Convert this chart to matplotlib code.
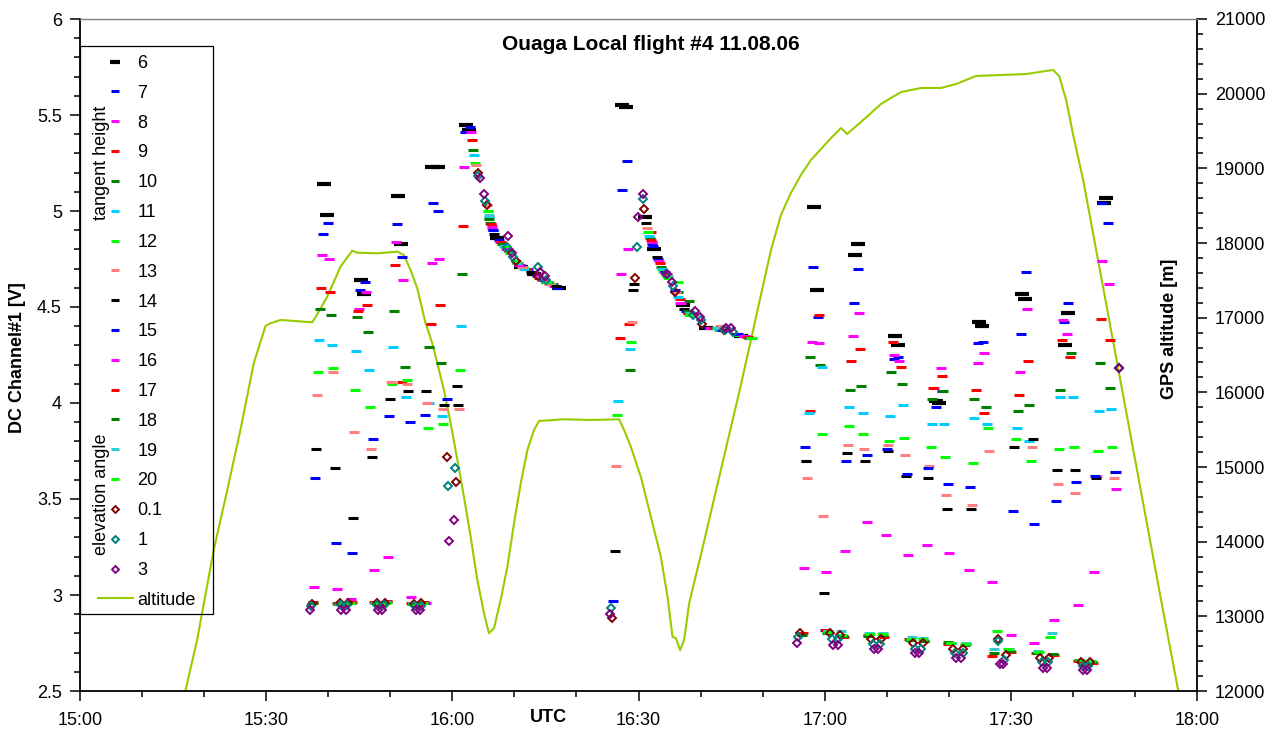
import matplotlib
matplotlib.use("Agg")
import matplotlib.pyplot as plt
from matplotlib.lines import Line2D
from matplotlib.patches import Rectangle
from matplotlib.ticker import MultipleLocator, FuncFormatter

plt.rcParams['font.family'] = ['Liberation Sans', 'DejaVu Sans']
plt.rcParams['font.size'] = 13

# GPS altitude track, minutes after 15:00 UTC and metres
alt_t = [16.98, 18.87, 21.55, 23.97, 25.85, 28.0, 29.89, 30.69, 32.31, 37.42, 37.95, 39.84,
         41.98, 43.87, 44.68, 47.9, 51.13, 52.19, 53.27, 54.35, 55.69, 56.77, 57.58, 58.65,
         59.73, 60.81, 61.87, 62.95, 64.03, 65.1, 65.9, 66.71, 67.79, 68.87, 69.94, 71.02,
         72.1, 73.16, 73.97, 78.0, 82.31, 86.87, 87.68, 88.76, 90.37, 91.45, 92.52, 93.6,
         94.68, 95.48, 96.02, 96.71, 97.35, 98.16, 100.05, 103.27, 106.5, 109.73, 111.35,
         112.95, 114.56, 116.18, 117.79, 121.02, 122.63, 123.6, 125.85, 129.08, 132.31,
         135.53, 138.76, 141.18, 144.4, 148.44, 152.47, 155.69, 156.82, 157.79, 158.92,
         160.05, 161.66, 164.56, 167.31, 171.02, 174.24, 176.98]
alt_m = [12000, 12683, 13888, 14782, 15496, 16389, 16888, 16925, 16969, 16938, 17005, 17281,
         17683, 17897, 17870, 17862, 17884, 17839, 17638, 17393, 16925, 16657, 16389, 16031,
         15585, 15094, 14602, 14067, 13487, 13041, 12773, 12840, 13219, 13665, 14246, 14782,
         15228, 15496, 15616, 15639, 15630, 15639, 15496, 15272, 14870, 14514, 14156, 13799,
         13263, 12727, 12706, 12549, 12683, 13174, 13821, 14960, 16098, 17304, 17906,
         18375, 18670, 18911, 19112, 19406, 19540, 19460, 19621, 19862, 20022,
         20076, 20076, 20129, 20237, 20250, 20263, 20304, 20317, 20237, 19915,
         19446, 18844, 17545, 16312, 14652, 13205, 12000]

# DC channel #1 in volts, (minutes after 15:00 UTC, V), tangent heights 6..20 km
th6 = [(39.29, 5.14), (39.84, 4.98), (45.21, 4.64), (45.74, 4.57), (51.23, 5.08), (51.66, 4.83),
       (56.66, 5.23), (57.63, 5.23), (62.15, 5.45), (62.68, 5.42), (67.26, 4.86), (71.02, 4.71),
       (73.16, 4.67), (77.19, 4.60), (87.42, 5.55), (87.95, 5.54), (91.06, 4.97), (92.52, 4.80),
       (97.1, 4.51), (100.85, 4.39), (106.5, 4.35), (118.23, 5.02), (118.76, 4.59), (124.84, 4.77),
       (125.32, 4.83), (131.39, 4.35), (131.87, 4.30), (137.95, 4.01), (138.48, 4.00), (144.84, 4.42),
       (145.37, 4.40), (151.82, 4.57), (152.26, 4.54), (158.71, 4.30), (159.19, 4.47), (164.94, 5.04),
       (165.37, 5.07)]
th7 = [(39.13, 4.88), (39.94, 4.94), (45.05, 4.59), (45.85, 4.63), (51.13, 4.93), (51.82, 4.76),
       (56.94, 5.04), (57.63, 5.00), (61.98, 5.41), (62.84, 5.44), (66.61, 4.90), (67.47, 4.85),
       (72.26, 4.70), (73.6, 4.66), (76.82, 4.60), (87.31, 5.11), (88.11, 5.26), (92.35, 4.82),
       (93.16, 4.75), (97.58, 4.48), (101.34, 4.39), (106.82, 4.35), (118.06, 4.71), (118.87, 4.45),
       (124.68, 4.52), (125.42, 4.70), (131.23, 4.23), (131.79, 4.24), (137.9, 3.98), (138.87, 4.06),
       (144.77, 4.31), (145.48, 4.32), (151.66, 4.36), (152.42, 4.68), (158.55, 4.42), (159.29, 4.52),
       (164.73, 5.04), (165.58, 4.94)]
th8 = [(39.03, 4.77), (40.1, 4.75), (44.94, 4.49), (46.06, 4.58), (50.85, 4.84), (52.03, 4.64),
       (56.77, 4.73), (57.84, 4.75), (61.87, 5.23), (62.95, 5.41), (66.45, 4.91), (67.63, 4.84),
       (71.98, 4.70), (73.76, 4.66), (76.39, 4.61), (87.15, 4.67), (88.23, 4.80), (92.1, 4.84),
       (93.32, 4.74), (96.66, 4.52), (101.5, 4.39), (107.15, 4.35), (117.9, 4.32), (119.03, 4.31),
       (124.52, 4.35), (125.58, 4.47), (131.1, 4.25), (132.03, 4.22), (137.58, 4.08), (138.76, 4.18),
       (144.68, 4.21), (145.65, 4.26), (151.45, 4.16), (152.63, 4.49), (158.44, 4.43), (159.08, 4.36),
       (164.73, 4.74), (165.81, 4.62)]
th9 = [(38.76, 4.60), (40.21, 4.58), (44.77, 4.48), (46.18, 4.51), (50.74, 4.72), (51.82, 4.11),
       (56.5, 4.41), (57.95, 4.51), (61.71, 4.92), (63.11, 5.37), (66.29, 4.93), (67.79, 4.84),
       (71.82, 4.70), (73.92, 4.65), (76.18, 4.62), (86.98, 4.34), (88.39, 4.41), (91.98, 4.89),
       (93.44, 4.73), (96.61, 4.54), (97.9, 4.47), (102.5, 4.39), (107.47, 4.345), (117.68, 3.96),
       (119.13, 4.46), (124.24, 4.22), (125.74, 4.28), (130.97, 4.32), (132.31, 4.19), (137.52, 4.08),
       (138.92, 4.14), (144.45, 4.07), (145.74, 3.95), (151.29, 4.04), (152.74, 4.22), (158.23, 4.33),
       (159.61, 4.24), (164.45, 4.44), (165.9, 4.33)]
th10 = [(38.65, 4.49), (40.37, 4.46), (44.56, 4.45), (46.39, 4.37), (50.58, 4.48), (52.35, 4.19),
        (56.29, 4.29), (58.16, 4.21), (61.61, 4.67), (63.32, 5.32), (66.06, 4.94), (68.06, 4.83),
        (71.66, 4.70), (74.08, 4.65), (76.02, 4.62), (88.6, 4.17), (91.87, 4.86), (93.6, 4.71),
        (96.39, 4.58), (98.16, 4.53), (102.66, 4.39), (107.79, 4.34), (117.63, 4.24), (119.29, 4.20),
        (124.13, 4.07), (125.85, 4.09), (130.69, 4.16), (132.47, 4.10), (137.31, 4.02), (139.03, 4.06),
        (144.13, 4.02), (146.02, 3.98), (151.23, 3.96), (152.9, 3.99), (158.0, 4.07), (159.73, 4.26),
        (164.4, 4.21), (166.06, 4.08)]
th11 = [(38.48, 4.33), (40.58, 4.30), (44.52, 4.27), (46.5, 4.17), (50.42, 4.29), (52.52, 4.03),
        (56.18, 4.00), (58.32, 3.93), (61.45, 4.40), (63.48, 5.29), (65.97, 4.97), (68.27, 4.82),
        (71.5, 4.70), (74.24, 4.65), (75.85, 4.62), (86.77, 4.01), (88.71, 4.28), (91.71, 4.87),
        (93.76, 4.70), (96.29, 4.55), (98.4, 4.47), (102.95, 4.38), (108.23, 4.34), (117.47, 3.95),
        (119.52, 4.19), (123.97, 3.98), (126.13, 3.95), (130.58, 3.93), (132.68, 3.99), (137.26, 3.89),
        (139.29, 3.89), (144.08, 3.92), (146.13, 3.89), (151.02, 3.87), (153.0, 3.80), (157.9, 4.03),
        (159.94, 4.03), (164.13, 3.96), (166.18, 3.97)]
th12 = [(38.39, 4.16), (40.69, 4.18), (44.29, 4.07), (46.66, 3.98), (50.32, 4.10), (52.63, 4.12),
        (56.06, 3.87), (58.44, 3.89), (61.29, 4.17), (63.6, 5.25), (65.74, 5.00), (68.44, 4.81),
        (71.34, 4.71), (74.4, 4.64), (75.69, 4.62), (86.5, 3.94), (88.87, 4.32), (91.61, 4.89),
        (93.92, 4.69), (96.29, 4.63), (98.16, 4.46), (103.27, 4.38), (106.18, 4.355), (116.98, 3.70),
        (119.61, 3.84), (123.87, 3.88), (126.23, 3.84), (130.42, 3.80), (132.84, 3.82), (137.1, 3.77),
        (139.4, 3.72), (143.97, 3.69), (146.34, 3.87), (150.85, 3.81), (153.23, 3.70), (157.79, 3.76),
        (160.16, 3.77), (164.03, 3.75), (166.34, 3.77)]
th13 = [(38.16, 4.04), (40.85, 4.16), (44.19, 3.85), (46.82, 3.76), (50.16, 4.11), (52.74, 4.10),
        (55.97, 4.00), (58.55, 3.97), (61.13, 3.97), (63.76, 5.24), (65.61, 5.03), (68.6, 4.80),
        (71.18, 4.71), (74.56, 4.64), (75.53, 4.62), (86.34, 3.67), (89.03, 4.42), (91.45, 4.91),
        (94.03, 4.68), (96.02, 4.58), (98.5, 4.47), (103.16, 4.40), (105.85, 4.36), (117.15, 3.61),
        (119.77, 3.41), (123.71, 3.78), (126.39, 3.76), (130.26, 3.78), (132.95, 3.73), (136.87, 3.67),
        (139.56, 3.52), (143.76, 3.47), (146.45, 3.75), (153.39, 3.77), (157.58, 3.58), (160.26, 3.53),
        (163.92, 3.62), (166.55, 3.61)]
th14 = [(38.06, 3.76), (41.02, 3.66), (43.97, 3.40), (46.98, 3.72), (49.94, 4.02), (52.9, 4.06),
        (55.74, 4.06), (58.71, 3.99), (60.74, 4.09), (60.9, 3.99), (66.71, 4.88), (72.63, 4.68),
        (75.32, 4.63), (76.66, 4.61), (86.23, 3.23), (89.19, 4.59), (89.29, 4.62), (91.23, 4.94),
        (93.06, 4.76), (97.35, 4.49), (102.79, 4.39), (105.69, 4.36), (116.98, 3.70), (119.94, 3.01),
        (123.55, 3.74), (126.5, 3.70), (130.16, 3.75), (133.11, 3.62), (136.71, 3.61), (139.68, 3.45),
        (143.6, 3.45), (150.58, 3.77), (153.55, 3.81), (157.42, 3.65), (160.37, 3.65), (163.76, 3.61),
        (166.71, 3.64)]
th15 = [(37.84, 3.61), (41.18, 3.27), (43.81, 3.22), (47.15, 3.81), (49.77, 3.93), (53.16, 3.90),
        (55.58, 3.94), (59.08, 4.02), (66.5, 4.90), (68.76, 4.80), (70.85, 4.72), (74.73, 4.64),
        (75.4, 4.63), (85.9, 2.97), (92.23, 4.83), (94.24, 4.68), (95.85, 4.59), (97.74, 4.48),
        (103.44, 4.38), (106.02, 4.36), (116.82, 3.77), (120.05, 2.82), (123.44, 3.70), (126.77, 3.73),
        (130.05, 3.76), (133.27, 3.63), (136.61, 3.66), (139.84, 3.58), (143.44, 3.56), (150.42, 3.44),
        (153.71, 3.37), (157.31, 3.49), (160.58, 3.59), (163.6, 3.62), (166.87, 3.64)]
th16 = [(37.74, 3.04), (41.34, 3.03), (43.71, 2.98), (47.31, 3.13), (49.61, 3.20), (53.27, 2.99),
        (55.69, 2.96), (66.34, 4.92), (69.0, 4.80), (70.69, 4.72), (74.9, 4.64), (92.15, 4.84),
        (94.4, 4.67), (96.82, 4.52), (101.97, 4.39), (106.98, 4.35), (116.61, 3.14), (120.21, 3.12),
        (123.27, 3.23), (126.82, 3.38), (129.89, 3.31), (133.39, 3.21), (136.45, 3.26), (140.1, 3.22),
        (143.32, 3.13), (146.94, 3.07), (150.1, 2.79), (153.81, 2.75), (157.03, 2.87), (160.81, 2.95),
        (163.39, 3.12), (166.98, 3.55)]
th17 = [(37.55, 2.965), (41.39, 2.96), (43.76, 2.965), (47.35, 2.965), (49.52, 2.97), (53.39, 2.957),
        (55.42, 2.965), (66.21, 4.93), (69.08, 4.79), (70.53, 4.73), (75.08, 4.63), (92.03, 4.85),
        (94.6, 4.67), (98.0, 4.47), (102.14, 4.39), (107.63, 4.345), (116.45, 2.80), (120.21, 2.82),
        (123.16, 2.78), (126.94, 2.79), (129.61, 2.78), (133.65, 2.77), (136.06, 2.76), (139.94, 2.745),
        (142.79, 2.745), (146.98, 2.68), (150.05, 2.705), (154.08, 2.70), (156.94, 2.69), (160.81, 2.656),
        (163.23, 2.647)]
th18 = [(37.48, 2.96), (41.58, 2.955), (43.6, 2.96), (47.47, 2.96), (49.4, 2.965), (53.52, 2.955),
        (55.29, 2.96), (65.92, 4.96), (69.16, 4.79), (70.44, 4.73), (75.16, 4.63), (94.65, 4.66),
        (98.03, 4.48), (102.5, 4.39), (107.95, 4.34), (116.34, 2.79), (120.37, 2.80), (123.03, 2.785),
        (127.06, 2.785), (129.48, 2.79), (133.76, 2.765), (135.93, 2.76), (139.94, 2.757), (142.69, 2.74),
        (147.35, 2.70), (149.87, 2.71), (154.19, 2.70), (156.82, 2.695), (160.94, 2.66), (163.11, 2.65)]
th19 = [(41.66, 2.96), (43.52, 2.96), (47.6, 2.96), (49.32, 2.965), (53.6, 2.96), (55.21, 2.96),
        (65.84, 4.98), (69.24, 4.78), (70.36, 4.73), (75.24, 4.63), (94.73, 4.66), (98.35, 4.47),
        (102.71, 4.39), (108.1, 4.34), (120.5, 2.81), (122.63, 2.81), (127.19, 2.80), (129.35, 2.80),
        (134.08, 2.78), (135.9, 2.775), (140.37, 2.75), (142.79, 2.75), (147.35, 2.72), (149.77, 2.72),
        (154.35, 2.71), (156.66, 2.80)]
th20 = [(41.82, 2.955), (43.44, 2.96), (47.71, 2.96), (49.24, 2.96), (53.68, 2.955), (55.13, 2.96),
        (65.69, 5.00), (69.31, 4.78), (70.29, 4.74), (75.32, 4.63), (94.81, 4.65), (98.53, 4.465),
        (108.27, 4.34), (120.6, 2.805), (122.87, 2.79), (127.31, 2.795), (129.24, 2.795), (133.92, 2.77),
        (135.77, 2.77), (140.37, 2.748), (142.56, 2.745), (147.74, 2.81), (149.56, 2.717), (154.48, 2.705),
        (156.34, 2.783), (161.08, 2.66), (162.95, 2.655)]

# elevation angles 0.1, 1 and 3 deg
ea01 = [(37.42, 2.955), (41.87, 2.957), (43.16, 2.957), (47.79, 2.957), (49.13, 2.96), (53.81, 2.953),
        (55.0, 2.957), (59.19, 3.72), (60.65, 3.59), (64.13, 5.20), (65.53, 5.03), (70.21, 4.74),
        (73.81, 4.66), (85.69, 2.88), (89.45, 4.65), (90.9, 5.01), (95.9, 4.58), (100.21, 4.41),
        (103.81, 4.38), (116.0, 2.80), (120.9, 2.80), (122.47, 2.79), (127.47, 2.77), (129.08, 2.77),
        (134.29, 2.75), (135.81, 2.75), (140.74, 2.72), (142.35, 2.72), (147.9, 2.77), (149.24, 2.69),
        (154.77, 2.67), (156.23, 2.67), (161.34, 2.65), (162.68, 2.65), (167.42, 4.18)]
ea1 = [(37.26, 2.945), (41.98, 2.946), (43.06, 2.946), (47.9, 2.946), (48.97, 2.946), (53.92, 2.943),
       (54.89, 2.943), (59.35, 3.57), (60.42, 3.66), (64.19, 5.18), (65.26, 5.05), (68.76, 4.81),
       (69.84, 4.76), (73.87, 4.71), (75.16, 4.64), (85.53, 2.93), (89.68, 4.81), (90.74, 5.06),
       (94.4, 4.67), (95.58, 4.61), (98.71, 4.46), (100.05, 4.43), (103.92, 4.38), (105.16, 4.37),
       (115.74, 2.78), (121.13, 2.77), (122.19, 2.77), (127.74, 2.745), (128.92, 2.745), (134.56, 2.72),
       (135.53, 2.72), (141.02, 2.70), (142.26, 2.70), (148.0, 2.76), (148.97, 2.66), (155.0, 2.65),
       (155.97, 2.65), (161.61, 2.63), (162.42, 2.63), (167.42, 4.18)]
ea3 = [(37.03, 2.92), (42.1, 2.922), (42.79, 2.922), (48.0, 2.922), (48.6, 2.922), (54.08, 2.922),
       (54.77, 2.922), (59.52, 3.28), (60.26, 3.39), (64.4, 5.17), (65.1, 5.09), (68.92, 4.87),
       (69.68, 4.78), (74.08, 4.68), (74.89, 4.66), (85.37, 2.90), (89.84, 4.97), (90.65, 5.09),
       (94.56, 4.67), (95.37, 4.63), (99.13, 4.48), (99.89, 4.45), (104.08, 4.39), (104.89, 4.39),
       (115.52, 2.75), (121.39, 2.74), (122.1, 2.74), (128.0, 2.72), (128.65, 2.72), (134.56, 2.70),
       (135.26, 2.70), (141.18, 2.67), (141.98, 2.67), (148.27, 2.64), (148.81, 2.64), (155.16, 2.62),
       (155.81, 2.62), (161.61, 2.61), (162.26, 2.61), (167.42, 4.18)]

x_ticks = [0, 30, 60, 90, 120, 150, 180]
x_labels = ["15:00", "15:30", "16:00", "16:30", "17:00", "17:30", "18:00"]

dash_series = [("6", th6, "#000000"), ("7", th7, "#0000FF"), ("8", th8, "#FF00FF"),
               ("9", th9, "#FF0000"), ("10", th10, "#008000"), ("11", th11, "#00CCFF"),
               ("12", th12, "#00FF00"), ("13", th13, "#FF8080"), ("14", th14, "#000000"),
               ("15", th15, "#0000FF"), ("16", th16, "#FF00FF"), ("17", th17, "#FF0000"),
               ("18", th18, "#008000"), ("19", th19, "#33CCCC"), ("20", th20, "#00FF00")]
diamond_series = [("0.1", ea01, "#800000"), ("1", ea1, "#008080"), ("3", ea3, "#800080")]
alt_color = "#99CC00"

fig = plt.figure(figsize=(12.77, 7.29), dpi=100)
ax = fig.add_axes([80 / 1277, 38 / 729, 1117 / 1277, 672 / 729])
ax2 = ax.twinx()

ax2.plot(alt_t, alt_m, color=alt_color, lw=1.5)
ax2.set_ylim(12000, 21000)

ax.set_zorder(ax2.get_zorder() + 1)
ax.patch.set_visible(False)

handles, labels = [], []
for name, pts, col in dash_series:
    ts = [p[0] for p in pts]
    vs = [p[1] for p in pts]
    big = name == "6"
    ax.plot(ts, vs, ls="none", marker="_", color=col,
            ms=9.5 if big else 7, mew=3.0 if big else 2.2)
    handles.append(Line2D([], [], ls="none", marker="_", color=col,
                          ms=7.5 if big else 6, mew=3.0 if big else 2.2))
    labels.append(name)
for name, pts, col in diamond_series:
    ts = [p[0] for p in pts]
    vs = [p[1] for p in pts]
    ax.plot(ts, vs, ls="none", marker="D", ms=4.5, mfc="none", mec=col, mew=1.4)
    handles.append(Line2D([], [], ls="none", marker="D", ms=3.5, mfc="none", mec=col, mew=1.4))
    labels.append(name)
handles.append(Line2D([], [], color=alt_color, lw=1.5))
labels.append("altitude")

ax.set_xlim(0, 180)
ax.set_ylim(2.5, 6)
ax.set_xticks(x_ticks, x_labels)
ax.xaxis.set_minor_locator(MultipleLocator(10))
ax.yaxis.set_major_locator(MultipleLocator(0.5))
ax.yaxis.set_minor_locator(MultipleLocator(0.1))
ax.yaxis.set_major_formatter(FuncFormatter(lambda v, p: "%g" % v))
ax2.yaxis.set_major_locator(MultipleLocator(1000))
ax2.yaxis.set_minor_locator(MultipleLocator(200))

ax.tick_params(which="major", direction="out", length=7, width=1.1, labelsize=13)
ax.tick_params(which="minor", direction="out", length=4, width=1.1)
ax.tick_params(axis="x", pad=8)
ax.tick_params(axis="y", pad=6, right=False, which="both")
ax2.tick_params(which="major", direction="out", length=7, width=1.1, labelsize=13, pad=6)
ax2.tick_params(which="minor", direction="out", length=4, width=1.1)

for s in ("left", "bottom"):
    ax.spines[s].set_linewidth(1.3)
ax.spines["right"].set_visible(False)
ax.spines["top"].set_color("#808080")
ax.spines["top"].set_linewidth(1)
for s in ("left", "top", "bottom"):
    ax2.spines[s].set_visible(False)
ax2.spines["right"].set_linewidth(1.3)

ax.legend(handles, labels, loc="upper left", bbox_to_anchor=(0.0164, 0.9465),
          frameon=False, borderpad=0, borderaxespad=0, handlelength=1.9,
          handletextpad=0.25, labelspacing=0.71, fontsize=13)
ax.add_patch(Rectangle((0, 0.1146), 0.1188, 0.845, transform=ax.transAxes,
                       fill=False, ec="black", lw=0.9, clip_on=False, zorder=5))
fig.text(101 / 1277, 1 - 163 / 729, "tangent height", rotation=90, ha="center", va="center", fontsize=13)
fig.text(101 / 1277, 1 - 494.5 / 729, "elevation angle", rotation=90, ha="center", va="center", fontsize=13)

fig.text(651 / 1277, 1 - 45 / 729, "Ouaga Local flight #4 11.08.06", fontsize=15,
         fontweight="bold", ha="center", va="center")
fig.text(548 / 1277, 1 - 717 / 729, "UTC", fontsize=13, fontweight="bold", ha="center", va="center")
fig.text(18 / 1277, 1 - 358 / 729, "DC Channel#1 [V]", rotation=90, fontsize=13,
         fontweight="bold", ha="center", va="center")
fig.text(1170 / 1277, 1 - 329 / 729, "GPS altitude [m]", rotation=90, fontsize=13,
         fontweight="bold", ha="center", va="center")

fig.savefig("out.png", dpi=100)
